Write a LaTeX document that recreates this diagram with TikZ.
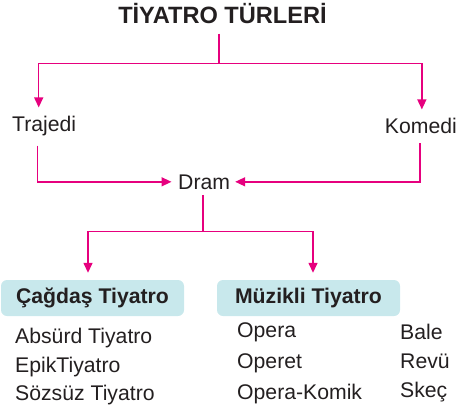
\documentclass[tikz,border=0pt]{standalone}
\usepackage{fontspec}
\setmainfont{Liberation Sans}
\usetikzlibrary{arrows.meta}
\definecolor{linkpink}{HTML}{E6007E}
\definecolor{boxblue}{HTML}{C8E8EC}
\definecolor{ink}{HTML}{231F20}
\tikzset{
  link/.style={draw=linkpink, line width=1.4pt},
  linkarrow/.style={link, -{Triangle[length=10pt,width=9pt]}},
  word/.style={text=ink, font=\fontsize{21.2}{24}\selectfont, inner sep=0pt},
  typebox/.style={fill=boxblue, rounded corners=6pt, minimum width=183pt, minimum height=36pt,
    text=ink, font=\bfseries\fontsize{21.2}{24}\selectfont, text height=15pt, text depth=4.5pt}
}
\begin{document}
\begin{tikzpicture}[x=1pt,y=1pt]
\useasboundingbox (0,0) rectangle (458,-410);

\node[word, font=\bfseries\fontsize{23.6}{26}\selectfont, anchor=base] (title) at (222.5,-23.3) {TİYATRO TÜRLERİ};

\node[word, anchor=base west] (traj) at (12,-131) {Trajedi};
\node[word, anchor=base east] (kom) at (457,-133) {Komedi};
\node[word, anchor=base west] (dram) at (178,-189) {Dram};

\node[typebox] (cag) at (92.5,-298) {Çağdaş Tiyatro};
\node[typebox] (muz) at (308.5,-298) {Müzikli Tiyatro};

% lists under the boxes
\node[word, anchor=base west] (abs) at (15,-343) {Absürd Tiyatro};
\node[word, anchor=base west] (epik) at (15,-372) {EpikTiyatro};
\node[word, anchor=base west] (soz) at (15,-400) {Sözsüz Tiyatro};

\node[word, anchor=base west] (opera) at (237,-337) {Opera};
\node[word, anchor=base west] (operet) at (237,-368) {Operet};
\node[word, anchor=base west] (komik) at (237,-399) {Opera-Komik};

\node[word, anchor=base west] (bale) at (400,-339) {Bale};
\node[word, anchor=base west] (revu) at (400,-368) {Revü};
\node[word, anchor=base west] (skec) at (400,-397) {Skeç};

% connectors
\draw[link, shorten <=10pt] ([xshift=-3.5pt]title.south) -- ++(0,-40) coordinate (fork);
\draw[linkarrow, shorten >=8pt] (fork) -| ([xshift=-5.5pt]traj.north);
\draw[linkarrow, shorten >=8pt] (fork) -| ([xshift=1pt]kom.north);

\draw[linkarrow, shorten <=10pt, shorten >=6.5pt] ([xshift=-6.5pt]traj.south) |- (dram.west);
\draw[linkarrow, shorten <=10pt, shorten >=5pt] ([xshift=-1pt]kom.south) |- (dram.east);

\draw[link, shorten <=6pt] ([xshift=-1pt]dram.south) -- ++(0,-42) coordinate (fork2);
\draw[linkarrow, shorten >=7pt] (fork2) -| ([xshift=-4.5pt]cag.north);
\draw[linkarrow, shorten >=7pt] (fork2) -| ([xshift=4.5pt]muz.north);

\end{tikzpicture}
\end{document}
